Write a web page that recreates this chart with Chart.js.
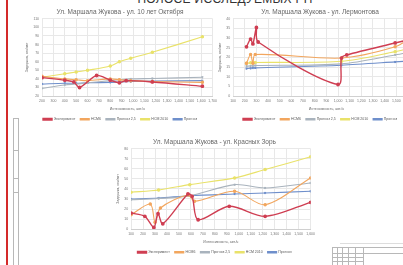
<!DOCTYPE html>
<html>
<head>
<meta charset="utf-8">
<script src="https://cdn.jsdelivr.net/npm/chart.js@4"></script>
<style>
  body { margin: 0; width: 403px; height: 265px; overflow: hidden; background: #fff; position: relative; font-family: "Liberation Sans", Arial, sans-serif; }
  canvas { position: absolute; }
  .frame { position: absolute; background: #d42a2a; }
  .box { position: absolute; border: 1px solid #b8b8b8; box-sizing: border-box; }
  .hl { position: absolute; height: 1px; background: #b8b8b8; }
  .vl { position: absolute; width: 1px; background: #b8b8b8; }
  #sheetTitle { position: absolute; left: 0; width: 450px; text-align: center; top: -8px; font-size: 12px; color: #333; letter-spacing: 0.3px; }
</style>
</head>
<body>
<div class="frame" style="left:6px;top:0;width:2px;height:265px"></div>
<div class="box" style="left:13px;top:118px;width:6px;height:148px"></div>
<div class="hl" style="left:13px;top:150px;width:6px"></div>
<div class="hl" style="left:13px;top:178px;width:6px"></div>
<div class="hl" style="left:13px;top:192px;width:6px"></div>
<div id="sheetTitle">ПОЛОСЕ ИССЛЕДУЕМЫХ РП</div>

<canvas id="c1" width="198" height="124" style="left:22px;top:7px"></canvas>
<canvas id="c2" width="212" height="124" style="left:215px;top:7px"></canvas>
<canvas id="c3" width="205" height="127" style="left:113px;top:137px"></canvas>

<!-- title block -->
<div class="hl" style="left:340px;top:243px;width:63px;background:#ddd"></div>
<div class="box" style="left:332px;top:247px;width:72px;height:19px"></div>
<div class="vl" style="left:337px;top:247px;height:19px"></div>
<div class="vl" style="left:342px;top:247px;height:19px"></div>
<div class="vl" style="left:348px;top:247px;height:19px"></div>
<div class="vl" style="left:355px;top:247px;height:19px"></div>
<div class="vl" style="left:363px;top:247px;height:19px"></div>
<div class="hl" style="left:332px;top:253px;width:72px"></div>
<div class="hl" style="left:332px;top:257px;width:31px"></div>
<div class="hl" style="left:332px;top:261px;width:31px"></div>

<script>
// series names
const seriesNames = ['Эксперимент', 'HCM6', 'Прогноз 2,5', 'HCM 2010', 'Прогноз'];
const seriesColors = ['#cf3e52', '#f2a65e', '#a9b3bd', '#e9e26a', '#6f8fcb'];

// chart 1: ул. Маршала Жукова - ул. 10 лет Октября
const c1ExpX = [200, 400, 480, 530, 680, 800, 880, 940, 1170, 1610];
const c1Exp = [41.5, 38.5, 36.5, 30, 44, 38.5, 35.5, 38, 36.5, 31.5];
const c1ModelX = [200, 400, 500, 600, 800, 880, 980, 1170, 1610];
const c1Hcm6 = [43, 40, 39, 38, 40, 39, 38, 37, 36];
const c1Prog25 = [29, 33, 34, 35.5, 38, 39, 40, 40.5, 42];
const c1Hcm2010 = [42, 46, 48, 50, 55, 60, 64, 71, 89];
const c1Prog = [34, 35, 35, 35.5, 36, 36.5, 37, 37.5, 38];

// chart 2: ул. Маршала Жукова - ул. Лермонтова
const c2ExpX = [215, 250, 270, 300, 315, 1000, 1030, 1075, 1490, 1630];
const c2Exp = [25.5, 29.5, 27, 35.5, 28, 6, 19.7, 21.3, 27.5, 29.5];
const c2ModelX = [215, 250, 270, 290, 1030, 1490, 1630];
const c2Hcm6 = [17, 21.5, 17, 21.5, 19.7, 25.5, 30.5];
const c2Prog25 = [15.5, 15.6, 15.7, 15.8, 16.7, 21.3, 23];
const c2Hcm2010 = [17, 17.2, 17.2, 17.4, 18, 23, 25];
const c2Prog = [14.3, 14.4, 14.5, 14.6, 16, 17.7, 18.3];

// chart 3: ул. Маршала Жукова - ул. Красных Зорь
const c3ExpX = [100, 215, 290, 325, 365, 575, 610, 660, 920, 1220, 1600];
const c3Exp = [16, 12.7, 1.7, 15.3, 5.3, 35, 32.7, 9.3, 22.7, 12.7, 26.7];
const c3Hcm6X = [100, 260, 300, 345, 575, 630, 965, 1220, 1600];
const c3Hcm6 = [14.3, 25, 6.7, 21, 34, 27.7, 37.7, 24.3, 51];
const c3ModelX = [100, 330, 590, 965, 1220, 1600];
const c3Prog25 = [29.3, 30.5, 33.3, 44.3, 41, 46];
const c3Hcm2010 = [36.7, 39, 44.3, 51, 59.3, 72];
const c3Prog = [30, 31, 33.3, 35, 36, 37.7];

const zip = (xs, ys) => ys.map((y, i) => ({ x: xs[i], y: y }));

function makeSets(list) {
  return list.map((s, i) => ({
    label: seriesNames[i],
    data: zip(s[0], s[1]),
    borderColor: seriesColors[i],
    backgroundColor: seriesColors[i],
    borderWidth: i === 0 ? 1.4 : 1.1,
    pointRadius: 1.2,
    pointStyle: i === 2 || i === 4 ? 'crossRot' : 'circle',
    tension: 0.3,
    fill: false,
  }));
}

function drawChart(id, title, sets, xMin, xMax, yMin, yMax, yStep) {
  const small = { size: 3.5, family: 'Liberation Sans' };
  new Chart(document.getElementById(id), {
    type: 'line',
    data: { datasets: makeSets(sets) },
    options: {
      responsive: false,
      animation: false,
      devicePixelRatio: 1,
      layout: { padding: { left: 2, right: 4, top: 0, bottom: 0 } },
      plugins: {
        title: { display: true, text: title, color: '#666', font: { size: 6.5, weight: 'normal', family: 'Liberation Sans' }, padding: { top: 1, bottom: 3 } },
        legend: {
          position: 'bottom',
          labels: { boxWidth: 9, boxHeight: 1.5, padding: 5, color: '#595959', font: small },
        },
        tooltip: { enabled: false },
      },
      scales: {
        x: {
          type: 'linear', min: xMin, max: xMax,
          ticks: { stepSize: 100, autoSkip: false, maxRotation: 0, color: '#777', font: small, padding: 3 },
          grid: { color: '#e8e8e8', tickLength: 0 },
          border: { color: '#d0d0d0' },
          title: { display: true, text: 'Интенсивность, авт./ч', color: '#666', font: small, padding: 1 },
        },
        y: {
          min: yMin, max: yMax,
          ticks: { stepSize: yStep, color: '#777', font: small, padding: 3 },
          grid: { color: '#e8e8e8', tickLength: 0 },
          border: { display: false },
          title: { display: true, text: 'Задержка, сек/авт', color: '#666', font: small, padding: 1 },
        },
      },
    },
  });
}

drawChart('c1', 'Ул. Маршала Жукова - ул. 10 лет Октября', [
  [c1ExpX, c1Exp], [c1ModelX, c1Hcm6], [c1ModelX, c1Prog25], [c1ModelX, c1Hcm2010], [c1ModelX, c1Prog],
], 200, 1700, 20, 110, 10);

drawChart('c2', 'Ул. Маршала Жукова - ул. Лермонтова', [
  [c2ExpX, c2Exp], [c2ModelX, c2Hcm6], [c2ModelX, c2Prog25], [c2ModelX, c2Hcm2010], [c2ModelX, c2Prog],
], 100, 1700, 0, 40, 5);

drawChart('c3', 'Ул. Маршала Жукова - ул. Красных Зорь', [
  [c3ExpX, c3Exp], [c3Hcm6X, c3Hcm6], [c3ModelX, c3Prog25], [c3ModelX, c3Hcm2010], [c3ModelX, c3Prog],
], 100, 1600, 0, 80, 10);
</script>
</body>
</html>
